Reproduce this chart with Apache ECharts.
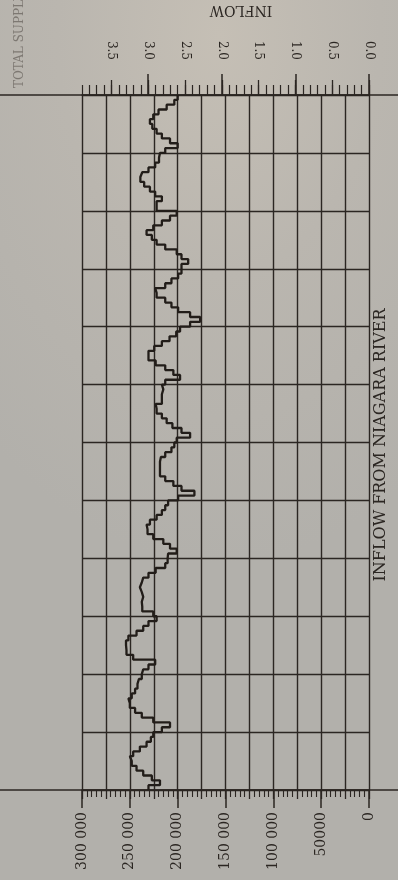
<!DOCTYPE html>
<html>
<head>
<meta charset="utf-8">
<script src="https://cdn.jsdelivr.net/npm/echarts@6/dist/echarts.min.js"></script>
<style>
html,body{margin:0;padding:0;width:398px;height:880px;overflow:hidden;
background:radial-gradient(ellipse 90% 60% at 55% 4%, #c5bfb5 0%, #bab6af 45%, #b2b0ab 100%);}
#chart{width:398px;height:880px;}
</style>
</head>
<body>
<div id="chart"></div>
<script>
// Monthly inflow from Niagara River (cfs), chronological, 12 years (bottom of page = first month)
const inflowCfs = [
  230500, 218500, 227000, 236000, 243000, 248000, 250000, 246500, 239500, 232500, 228000, 225500,
  216500, 208000, 225500, 237500, 244500, 250000, 251500, 248000, 244500, 242000, 240500, 237500,
  236000, 230500, 223500, 246500, 253500, 254000, 254000, 251500, 243000, 236000, 230500, 222000,
  225500, 237000, 237500, 236000, 237500, 239500, 237500, 236000, 230500, 223000, 213000, 210500,
  210000, 201000, 208000, 215000, 225500, 231500, 232500, 229000, 222000, 216500, 213000, 210000,
  199500, 182500, 196000, 204500, 213000, 218500, 218500, 218500, 217500, 213000, 206500, 203500,
  201000, 187000, 196000, 205500, 211500, 216500, 222000, 223000, 216500, 216500, 215000, 216500,
  213000, 197500, 204500, 213000, 223000, 230500, 230500, 224500, 216500, 208500, 201500, 197500,
  187000, 176500, 187000, 199500, 206500, 213000, 222000, 223500, 213000, 206500, 199500, 196000,
  196000, 189000, 196000, 201000, 213000, 222000, 227000, 232500, 225500, 216500, 208000, 201000,
  222000, 222000, 216500, 223500, 229000, 235000, 239000, 237000, 230500, 223500, 219500, 218500,
  213000, 200000, 208000, 216500, 222000, 226500, 229000, 225500, 220000, 211500, 203500, 200000
];
// month boundaries 0..144 (category axis, boundaryGap false)
const monthEdges = Array.from({length: inflowCfs.length + 1}, (_, i) => String(i));
const monthsPerYear = 12;

// Bottom (cfs) axis
const cfsMin = 0, cfsMax = 300000;
const cfsGridStep = 25000;
const cfsTickValues = [0, 50000, 100000, 150000, 200000, 250000, 300000];
const cfsTickLabels = ['0', '50000', '100 000', '150 000', '200 000', '250 000', '300 000'];

// Top (inflow) axis
const inflowMax = 3.9;
const inflowLabelValues = [0, 0.5, 1.0, 1.5, 2.0, 2.5, 3.0, 3.5];
const inflowTickLabels = ['0.0', '0.5', '1.0', '1.5', '2.0', '2.5', '3.0', '3.5'];
const inflowIntegerTicks = [0, 1, 2, 3];
const inflowMinorTicks = [];
for (let i = 0; i <= 39; i++) inflowMinorTicks.push(+(i / 10).toFixed(1));

const INK = '#2b2622';
const GRID_TOP = 95, GRID_BOTTOM = 790, GRID_LEFT = 82, GRID_RIGHT = 369;
const SERIF = '"DejaVu Serif", "Liberation Serif", serif';

const chart = echarts.init(document.getElementById('chart'), null, {renderer: 'canvas'});

const hiddenLine = {show: false};
const option = {
  animation: false,
  backgroundColor: 'transparent',
  grid: {left: GRID_LEFT, right: 398 - GRID_RIGHT, top: GRID_TOP, bottom: 880 - GRID_BOTTOM, containLabel: false},
  xAxis: [
    { // main bottom axis: grid lines + 25000 & 5000 ticks
      type: 'value', position: 'bottom', min: cfsMin, max: cfsMax, interval: cfsGridStep, inverse: true,
      axisLine: {show: true, onZero: false, lineStyle: {color: INK, width: 1.6}},
      axisTick: {show: true, length: 9, lineStyle: {color: INK, width: 1.3}},
      minorTick: {show: true, splitNumber: 5, length: 7, lineStyle: {color: INK, width: 1.1}},
      splitLine: {show: true, lineStyle: {color: INK, width: 1.4}},
      axisLabel: {show: false}
    },
    { // bottom labels + 50000 long ticks
      type: 'value', position: 'bottom', min: cfsMin, max: cfsMax, inverse: true,
      axisLine: {show: false, onZero: false},
      axisTick: {show: true, length: 18, customValues: cfsTickValues, lineStyle: {color: INK, width: 1.5}},
      splitLine: {show: false},
      axisLabel: {
        show: true, customValues: cfsTickValues, rotate: 90, margin: 22,
        fontFamily: SERIF, fontSize: 14, color: INK,
        formatter: v => cfsTickLabels[cfsTickValues.indexOf(v)]
      }
    },
    { // top axis: line, 0.1 ticks, labels
      type: 'value', position: 'top', min: 0, max: inflowMax, inverse: true,
      axisLine: {show: true, onZero: false, lineStyle: {color: INK, width: 1.6}},
      axisTick: {show: true, length: 10, customValues: inflowMinorTicks, lineStyle: {color: INK, width: 1.2}},
      splitLine: {show: false},
      axisLabel: {
        show: true, customValues: inflowLabelValues, rotate: 90, margin: 35,
        fontFamily: SERIF, fontSize: 12, color: INK,
        formatter: v => inflowTickLabels[inflowLabelValues.indexOf(v)]
      }
    },
    { // top 0.5 ticks
      type: 'value', position: 'top', min: 0, max: inflowMax, inverse: true,
      axisLine: {show: false, onZero: false},
      axisTick: {show: true, length: 15, customValues: inflowLabelValues, lineStyle: {color: INK, width: 1.3}},
      splitLine: {show: false}, axisLabel: {show: false}
    },
    { // top integer ticks
      type: 'value', position: 'top', min: 0, max: inflowMax, inverse: true,
      axisLine: {show: false, onZero: false},
      axisTick: {show: true, length: 21, customValues: inflowIntegerTicks, lineStyle: {color: INK, width: 1.5}},
      splitLine: {show: false}, axisLabel: {show: false}
    }
  ],
  yAxis: {
    type: 'category', data: monthEdges, boundaryGap: false,
    axisLine: hiddenLine, axisTick: {show: false}, axisLabel: {show: false},
    splitLine: {show: true, interval: (idx) => idx % monthsPerYear === 0, lineStyle: {color: INK, width: 1.4}}
  },
  series: [{
    type: 'line', xAxisIndex: 0, yAxisIndex: 0, step: 'end', symbol: 'none',
    data: inflowCfs.concat([inflowCfs[inflowCfs.length - 1]]),
    lineStyle: {color: '#221d19', width: 2.3},
    z: 5
  }],
  graphic: [
    {type: 'line', shape: {x1: 0, y1: GRID_TOP, x2: 398, y2: GRID_TOP}, style: {stroke: INK, lineWidth: 1.6}, z: 1},
    {type: 'line', shape: {x1: 0, y1: GRID_BOTTOM, x2: 398, y2: GRID_BOTTOM}, style: {stroke: INK, lineWidth: 1.6}, z: 1},
    {type: 'text', x: 241, y: 10, rotation: Math.PI,
     style: {text: 'INFLOW', fontFamily: SERIF, fontSize: 14, fill: INK, align: 'center', verticalAlign: 'middle'}},
    {type: 'text', x: 381, y: 445, rotation: Math.PI / 2,
     style: {text: 'INFLOW FROM NIAGARA RIVER', fontFamily: SERIF, fontSize: 16, fill: INK, align: 'center', verticalAlign: 'middle'}},
    {type: 'text', x: 20, y: 88, rotation: Math.PI / 2,
     style: {text: 'TOTAL SUPPLY TO LAKE ONTARIO', fontFamily: SERIF, fontSize: 12, fill: '#7d7872', align: 'left', verticalAlign: 'middle'}}
  ]
};
chart.setOption(option);
</script>
</body>
</html>
